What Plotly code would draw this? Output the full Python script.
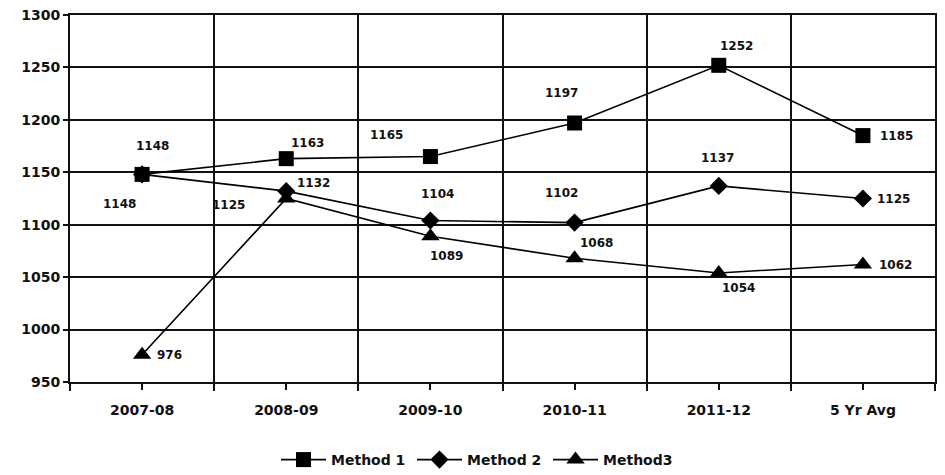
import plotly.graph_objects as go

categories = ["2007-08", "2008-09", "2009-10", "2010-11", "2011-12", "5 Yr Avg"]
method1 = [1148, 1163, 1165, 1197, 1252, 1185]
method2 = [1148, 1132, 1104, 1102, 1137, 1125]
method3 = [976, 1125, 1089, 1068, 1054, 1062]
y_ticks = [950, 1000, 1050, 1100, 1150, 1200, 1250, 1300]

# label offsets (pixels) per point: (dx, dy)
off1 = [(10, 28), (21, 16), (-44, 22), (-13, 30), (18, 19), (34, 0)]
off2 = [(-23, -30), (27, 8), (7, 27), (-13, 30), (-1, 28), (31, 0)]
off3 = [(27, 0), (-58, -6), (16, -20), (22, 15), (20, -15), (33, 0)]

xs = list(range(len(categories)))
FONT = "DejaVu Sans, Liberation Sans, Arial, sans-serif"

fig = go.Figure()
series = [
    ("Method 1", method1, "square", 15, off1),
    ("Method 2", method2, "diamond", 14, off2),
    ("Method3", method3, "triangle-up", 16, off3),
]
for name, vals, sym, sz, offs in series:
    fig.add_trace(go.Scatter(
        x=xs, y=vals, name=name, mode="lines+markers",
        line=dict(color="black", width=1.6),
        marker=dict(symbol=sym, size=sz, color="black"),
        hoverinfo="skip",
    ))
    for x, v, (dx, dy) in zip(xs, vals, offs):
        fig.add_annotation(
            x=x, y=v, text=str(v), showarrow=False,
            xshift=dx, yshift=dy,
            font=dict(family=FONT, size=12, color="#111", weight="bold"),
        )

fig.update_layout(
    width=937, height=467,
    margin=dict(l=62, r=10, t=7, b=93, autoexpand=False),
    paper_bgcolor="white", plot_bgcolor="white",
    showlegend=True,
    legend=dict(
        orientation="h", x=0.474, xanchor="center", y=-0.2125, yanchor="middle",
        font=dict(family=FONT, size=14, color="#111", weight="bold"),
        entrywidth=76, entrywidthmode="pixels", traceorder="normal",
        itemwidth=45,
    ),
    xaxis=dict(
        range=[-0.5, 5.5], automargin=False,
        tickmode="array", tickvals=xs, ticktext=categories,
        ticks="outside", ticklen=6, tickwidth=1.5, tickcolor="#111",
        ticklabelstandoff=8,
        showgrid=False, zeroline=False,
        showline=True, linecolor="#111", linewidth=2, mirror=True,
        tickfont=dict(family=FONT, size=14, color="#111", weight="bold"),
        minor=dict(
            tickmode="array", tickvals=[i - 0.5 for i in range(len(categories) + 1)],
            ticks="outside", ticklen=7, tickwidth=1.5, tickcolor="#111",
            showgrid=True, gridcolor="#111", gridwidth=1.5,
        ),
    ),
    yaxis=dict(
        range=[950, 1300], automargin=False,
        tickmode="array", tickvals=y_ticks,
        ticks="outside", ticklen=5, tickwidth=1.5, tickcolor="#111",
        ticklabeloverflow="allow",
        showgrid=True, gridcolor="#111", gridwidth=1.5, zeroline=False,
        showline=True, linecolor="#111", linewidth=2, mirror=True,
        tickfont=dict(family=FONT, size=14, color="#111", weight="bold"),
    ),
)

fig.write_html("out.html")
